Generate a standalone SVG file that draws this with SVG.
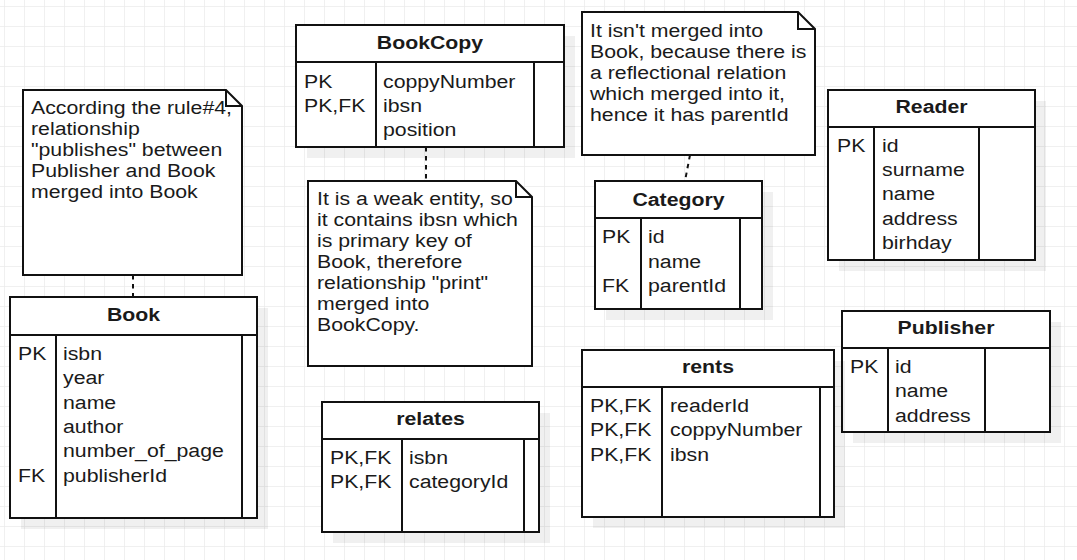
<svg xmlns="http://www.w3.org/2000/svg" width="1077" height="560" viewBox="0 0 1077 560">
<defs>
<pattern id="grid" patternUnits="userSpaceOnUse" x="4" y="6" width="20" height="20">
<path d="M 20 0 L 0 0 0 20" fill="none" stroke="#ebebeb" stroke-width="1.5"/>
</pattern>
<style>
.sh{fill:#000;fill-opacity:0.06;stroke:none}
.box{fill:#fff;stroke:#111;stroke-width:2}
.ln{fill:none;stroke:#111;stroke-width:2}
.con{fill:none;stroke:#111;stroke-width:2;stroke-dasharray:4.5 4.5}
text{font-family:"Liberation Sans",Arial,sans-serif;font-size:19px;fill:#1a1a1a}
.h{font-weight:bold;text-anchor:middle}
</style>
</defs>
<rect width="1077" height="560" fill="#fff"/>
<rect width="1077" height="560" fill="url(#grid)"/>

<g id="connectors">
<line class="con" x1="133" y1="275" x2="133" y2="297"/>
<line class="con" x1="426" y1="147" x2="426" y2="181"/>
<line class="con" x1="690" y1="155" x2="685" y2="181"/>
</g>

<g id="note-book">
<path class="box" d="M23,90 H226 L242,106 V275 H23 Z"/>
<path class="ln" d="M226,90 V106 H242"/>
<text transform="translate(31 114) scale(1.12 1)">According the rule#4,</text>
<text transform="translate(31 135) scale(1.12 1)">relationship</text>
<text transform="translate(31 156) scale(1.12 1)">"publishes" between</text>
<text transform="translate(31 177) scale(1.12 1)">Publisher and Book</text>
<text transform="translate(31 198) scale(1.12 1)">merged into Book</text>
</g>

<g id="note-bookcopy">
<path class="box" d="M308,181 H516 L532,197 V366 H308 Z"/>
<path class="ln" d="M516,181 V197 H532"/>
<text transform="translate(317 205) scale(1.12 1)">It is a weak entity, so</text>
<text transform="translate(317 226) scale(1.12 1)">it contains ibsn which</text>
<text transform="translate(317 247) scale(1.12 1)">is primary key of</text>
<text transform="translate(317 268) scale(1.12 1)">Book, therefore</text>
<text transform="translate(317 289) scale(1.12 1)">relationship "print"</text>
<text transform="translate(317 310) scale(1.12 1)">merged into</text>
<text transform="translate(317 331) scale(1.12 1)">BookCopy.</text>
</g>

<g id="note-category">
<path class="box" d="M582,12 H798 L815,29 V155 H582 Z"/>
<path class="ln" d="M798,12 V29 H815"/>
<text transform="translate(590 37) scale(1.12 1)">It isn't merged into</text>
<text transform="translate(590 58) scale(1.12 1)">Book, because there is</text>
<text transform="translate(590 79) scale(1.12 1)">a reflectional relation</text>
<text transform="translate(590 100) scale(1.12 1)">which merged into it,</text>
<text transform="translate(590 121) scale(1.12 1)">hence it has parentId</text>
</g>

<g id="book">
<rect class="sh" x="21" y="308" width="247" height="221"/>
<rect class="box" x="10" y="297" width="247" height="221"/>
<path class="ln" d="M10,335 H257 M56,335 V518 M242,335 V518"/>
<text class="h" transform="translate(133.5 321) scale(1.12 1)">Book</text>
<text transform="translate(18 360) scale(1.12 1)">PK</text>
<text transform="translate(18 481.7) scale(1.12 1)">FK</text>
<text transform="translate(63 360) scale(1.12 1)">isbn</text>
<text transform="translate(63 384.3) scale(1.12 1)">year</text>
<text transform="translate(63 408.6) scale(1.12 1)">name</text>
<text transform="translate(63 433) scale(1.12 1)">author</text>
<text transform="translate(63 457.3) scale(1.12 1)">number_of_page</text>
<text transform="translate(63 481.7) scale(1.12 1)">publisherId</text>
</g>

<g id="bookcopy">
<rect class="sh" x="307" y="36" width="268" height="122"/>
<rect class="box" x="296" y="25" width="268" height="122"/>
<path class="ln" d="M296,62 H564 M376,62 V147 M534,62 V147"/>
<text class="h" transform="translate(430 48.5) scale(1.12 1)">BookCopy</text>
<text transform="translate(304 87.7) scale(1.12 1)">PK</text>
<text transform="translate(304 111.7) scale(1.12 1)">PK,FK</text>
<text transform="translate(383 87.7) scale(1.12 1)">coppyNumber</text>
<text transform="translate(383 111.7) scale(1.12 1)">ibsn</text>
<text transform="translate(383 135.7) scale(1.12 1)">position</text>
</g>

<g id="category">
<rect class="sh" x="606" y="192" width="167" height="128"/>
<rect class="box" x="595" y="181" width="167" height="128"/>
<path class="ln" d="M595,218 H762 M641,218 V309 M740,218 V309"/>
<text class="h" transform="translate(678.5 205.5) scale(1.12 1)">Category</text>
<text transform="translate(602 243.3) scale(1.12 1)">PK</text>
<text transform="translate(602 291.7) scale(1.12 1)">FK</text>
<text transform="translate(648 243.3) scale(1.12 1)">id</text>
<text transform="translate(648 267.5) scale(1.12 1)">name</text>
<text transform="translate(648 291.7) scale(1.12 1)">parentId</text>
</g>

<g id="reader">
<rect class="sh" x="839" y="101" width="207" height="170"/>
<rect class="box" x="828" y="90" width="207" height="170"/>
<path class="ln" d="M828,127 H1035 M874,127 V260 M979,127 V260"/>
<text class="h" transform="translate(931.5 113) scale(1.12 1)">Reader</text>
<text transform="translate(837 151.7) scale(1.12 1)">PK</text>
<text transform="translate(882 151.7) scale(1.12 1)">id</text>
<text transform="translate(882 176) scale(1.12 1)">surname</text>
<text transform="translate(882 200.4) scale(1.12 1)">name</text>
<text transform="translate(882 224.8) scale(1.12 1)">address</text>
<text transform="translate(882 249.1) scale(1.12 1)">birhday</text>
</g>

<g id="publisher">
<rect class="sh" x="853" y="322" width="208" height="121"/>
<rect class="box" x="842" y="311" width="208" height="121"/>
<path class="ln" d="M842,348 H1050 M888,348 V432 M985,348 V432"/>
<text class="h" transform="translate(946 334) scale(1.12 1)">Publisher</text>
<text transform="translate(850 373) scale(1.12 1)">PK</text>
<text transform="translate(895 373) scale(1.12 1)">id</text>
<text transform="translate(895 397.3) scale(1.12 1)">name</text>
<text transform="translate(895 421.7) scale(1.12 1)">address</text>
</g>

<g id="relates">
<rect class="sh" x="333" y="413" width="217" height="130"/>
<rect class="box" x="322" y="402" width="217" height="130"/>
<path class="ln" d="M322,439 H539 M402,439 V532 M524,439 V532"/>
<text class="h" transform="translate(430.5 425) scale(1.12 1)">relates</text>
<text transform="translate(330 464) scale(1.12 1)">PK,FK</text>
<text transform="translate(330 488.3) scale(1.12 1)">PK,FK</text>
<text transform="translate(409 464) scale(1.12 1)">isbn</text>
<text transform="translate(409 488.3) scale(1.12 1)">categoryId</text>
</g>

<g id="rents">
<rect class="sh" x="593" y="361" width="252" height="167"/>
<rect class="box" x="582" y="350" width="252" height="167"/>
<path class="ln" d="M582,387 H834 M662,387 V517 M820,387 V517"/>
<text class="h" transform="translate(708 373) scale(1.12 1)">rents</text>
<text transform="translate(590 412) scale(1.12 1)">PK,FK</text>
<text transform="translate(590 436.3) scale(1.12 1)">PK,FK</text>
<text transform="translate(590 460.7) scale(1.12 1)">PK,FK</text>
<text transform="translate(670 412) scale(1.12 1)">readerId</text>
<text transform="translate(670 436.3) scale(1.12 1)">coppyNumber</text>
<text transform="translate(670 460.7) scale(1.12 1)">ibsn</text>
</g>
</svg>
